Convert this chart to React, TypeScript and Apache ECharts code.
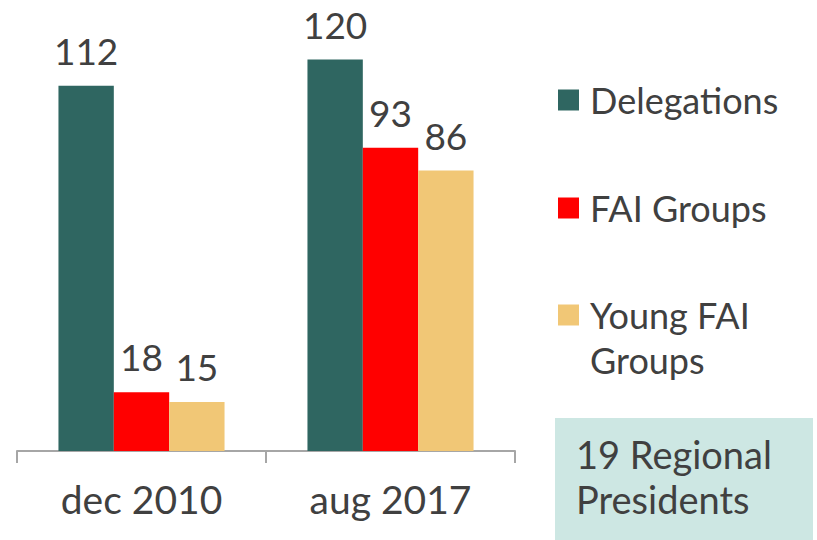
import React, { useEffect, useRef } from "react";
import * as echarts from "echarts";

const categories = ["dec 2010", "aug 2017"];
const delegations = [112, 120];
const faiGroups = [18, 93];
const youngFaiGroups = [15, 86];
const seriesNames = ["Delegations", "FAI Groups", "Young FAI Groups"];
const boxLines = ["19 Regional", "Presidents"];

const FONT = "Lato";
const TEXT = "#404040";
const COLORS = ["#2f6661", "#ff0000", "#f1c776"];

export default function App() {
  const ref = useRef<HTMLDivElement>(null);
  useEffect(() => {
    const chart = echarts.init(ref.current!, null, { renderer: "svg" });
    const label = {
      show: true,
      position: "top",
      distance: 17,
      color: TEXT,
      fontFamily: FONT,
      fontSize: 37,
      lineHeight: 37,
    };
    const legendText = {
      color: TEXT,
      fontFamily: FONT,
      fontSize: 36,
      lineHeight: 45,
      padding: [0, 0, 0, 6],
    };
    const mkSeries = (name: string, data: number[], color: string) => ({
      type: "bar",
      name,
      data,
      barGap: "0%",
      barCategoryGap: "33.3%",
      itemStyle: { color },
      label,
    });
    chart.setOption({
      animation: false,
      textStyle: { fontFamily: FONT },
      grid: { left: 17, right: 302, top: 27, bottom: 89 },
      xAxis: {
        type: "category",
        data: categories,
        axisLine: { lineStyle: { color: "#a6a6a6", width: 2 } },
        axisTick: { show: true, length: 12, lineStyle: { color: "#a6a6a6", width: 2 } },
        axisLabel: { color: TEXT, fontFamily: FONT, fontSize: 39, margin: 28 },
      },
      yAxis: { type: "value", min: 0, max: 130, show: false, splitLine: { show: false } },
      legend: [
        {
          data: [seriesNames[0]],
          left: 558,
          top: 77.5,
          padding: 0,
          itemWidth: 21,
          itemHeight: 21,
          icon: "rect",
          textStyle: legendText,
        },
        {
          data: [seriesNames[1]],
          left: 558,
          top: 185.5,
          padding: 0,
          itemWidth: 21,
          itemHeight: 21,
          icon: "rect",
          textStyle: legendText,
        },
        {
          data: [seriesNames[2]],
          left: 558,
          top: 247.5,
          padding: 0,
          itemWidth: 21,
          itemHeight: 21,
          icon: "rect",
          formatter: () => " \nYoung FAI\nGroups",
          textStyle: legendText,
        },
      ],
      graphic: [
        {
          type: "rect",
          left: 555,
          top: 418,
          shape: { width: 258, height: 122 },
          style: { fill: "#cde7e3" },
        },
        {
          type: "text",
          left: 576,
          top: 431,
          style: {
            text: boxLines.join("\n"),
            fill: TEXT,
            fontFamily: FONT,
            fontSize: 38,
            lineHeight: 45,
          },
        },
      ],
      series: [
        mkSeries(seriesNames[0], delegations, COLORS[0]),
        mkSeries(seriesNames[1], faiGroups, COLORS[1]),
        mkSeries(seriesNames[2], youngFaiGroups, COLORS[2]),
      ],
    });
    return () => chart.dispose();
  }, []);
  return <div ref={ref} style={{ width: 817, height: 540, position: "absolute", left: 0, top: 0 }} />;
}
